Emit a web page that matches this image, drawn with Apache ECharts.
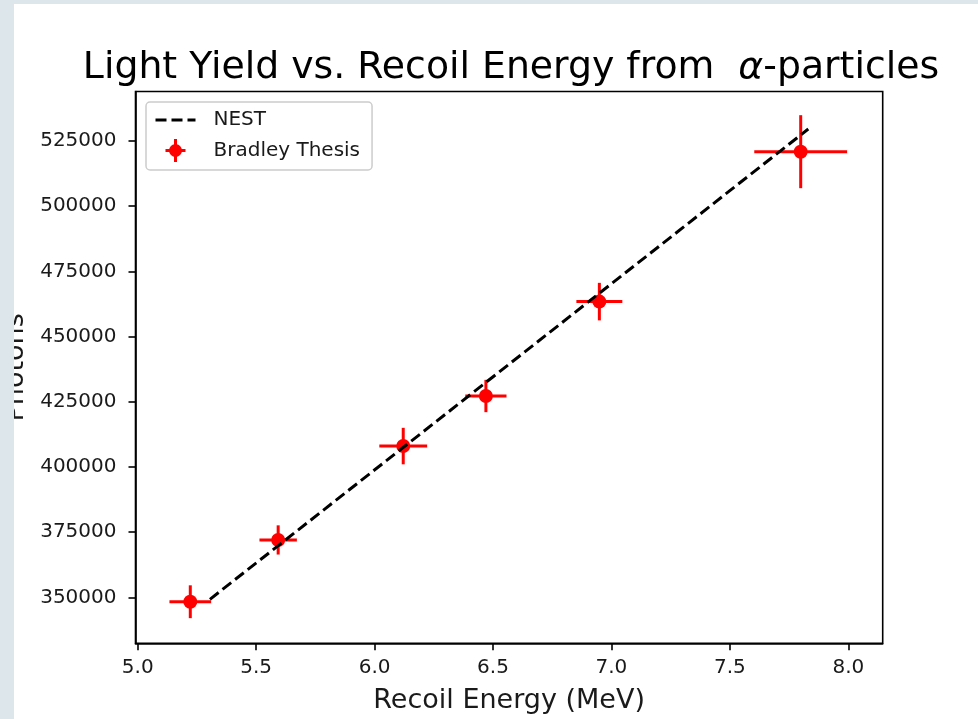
<!DOCTYPE html>
<html>
<head>
<meta charset="utf-8">
<script src="https://cdn.jsdelivr.net/npm/echarts@6/dist/echarts.min.js"></script>
<style>
  html, body { margin: 0; padding: 0; background: #ffffff; }
  #chart { width: 978px; height: 719px; }
</style>
</head>
<body>
<div id="chart"></div>
<script>
// Measured alpha recoil points (Bradley thesis) with their uncertainties
const energy      = [5.222, 5.593, 6.121, 6.470, 6.949, 7.799];
const photons     = [348300, 372000, 408000, 427200, 463400, 520900];
const energyErr   = [0.088, 0.079, 0.101, 0.087, 0.097, 0.196];
const photonsErr  = [6300, 5600, 7000, 6200, 7200, 14000];

// NEST model prediction
const nestEnergy  = [5.305, 7.831];
const nestPhotons = [349230, 529590];

// Axis ticks
const xTicks = [5.0, 5.5, 6.0, 6.5, 7.0, 7.5, 8.0];
const yTicks = [350000, 375000, 400000, 425000, 450000, 475000, 500000, 525000];

const FONT = 'DejaVu Sans';
const RED = '#ff0000';
const INK = '#1a1a1a';

const points = energy.map((e, i) => [e, photons[i], energyErr[i], photonsErr[i]]);
const nest = nestEnergy.map((e, i) => [e, nestPhotons[i]]);

const chart = echarts.init(document.getElementById('chart'), null, { renderer: 'canvas' });

chart.setOption({
  animation: false,
  backgroundColor: '#ffffff',
  title: {
    text: 'Light Yield vs. Recoil Energy from  {a|α}-particles',
    left: 506, textAlign: 'center',
    top: 44,
    textStyle: {
      fontFamily: FONT, fontSize: 37.8, fontWeight: 'normal', color: '#000',
      rich: { a: { fontFamily: FONT, fontSize: 37.8, fontStyle: 'italic', color: '#000' } }
    }
  },
  legend: {
    left: 146, top: 102,
    orient: 'vertical',
    backgroundColor: 'rgba(255,255,255,0.8)',
    borderColor: '#cccccc', borderWidth: 1.5, borderRadius: 4,
    padding: [8, 12, 8, 8],
    itemWidth: 40, itemHeight: 23, itemGap: 9,
    textStyle: { fontFamily: FONT, fontSize: 20, color: INK, padding: [0, 0, 0, 13] },
    data: [
      { name: 'NEST',
        itemStyle: { color: 'rgba(0,0,0,0)', borderWidth: 0, opacity: 0 },
        lineStyle: { color: '#000', width: 3, type: [11, 5] } },
      { name: 'Bradley Thesis',
        icon: 'path://M-1.5,-11.5 h3 v23 h-3 z M-10,-1.5 h20 v3 h-20 z M-6.5,0 a6.5,6.5 0 1,1 13,0 a6.5,6.5 0 1,1 -13,0 z',
        itemStyle: { color: RED, borderWidth: 0, opacity: 1 } }
    ]
  },
  grid: {
    left: 135.5, top: 91.5, right: 95.3, bottom: 75.7,
    outerBoundsMode: 'none', containLabel: false,
    show: true, borderColor: '#000', borderWidth: 1.6, backgroundColor: 'transparent'
  },
  xAxis: {
    type: 'value',
    min: 4.9907, max: 8.1452,
    name: 'Recoil Energy (MeV)',
    nameLocation: 'middle', nameGap: 44,
    nameTextStyle: { fontFamily: FONT, fontSize: 27, color: INK },
    axisLine: { show: true, onZero: false, lineStyle: { color: '#000', width: 1.6 } },
    axisTick: { show: true, inside: false, length: 7, lineStyle: { color: '#000', width: 1.6 },
                customValues: xTicks },
    axisLabel: { fontFamily: FONT, fontSize: 20, color: INK, margin: 14,
                 customValues: xTicks, formatter: v => v.toFixed(1) },
    splitLine: { show: false }
  },
  yAxis: {
    type: 'value',
    min: 332359, max: 543983,
    name: 'Photons',
    nameLocation: 'middle', nameGap: 99, nameRotate: 90,
    nameTextStyle: { fontFamily: FONT, fontSize: 27, color: INK },
    axisLine: { show: true, onZero: false, lineStyle: { color: '#000', width: 1.6 } },
    axisTick: { show: true, inside: false, length: 7, lineStyle: { color: '#000', width: 1.6 },
                customValues: yTicks },
    axisLabel: { fontFamily: FONT, fontSize: 20, color: INK, margin: 19,
                 customValues: yTicks, formatter: v => String(v) },
    splitLine: { show: false }
  },
  series: [
    {
      name: 'NEST',
      type: 'line',
      data: nest,
      symbol: 'none',
      z: 5,
      lineStyle: { color: '#000', width: 3, type: [11, 5] },
      itemStyle: { color: '#000' }
    },
    {
      name: 'Bradley Thesis',
      type: 'scatter',
      data: points.map(p => [p[0], p[1]]),
      symbol: 'circle',
      symbolSize: 14,
      z: 4,
      itemStyle: { color: RED, opacity: 1 }
    },
    {
      name: 'Bradley Thesis',
      type: 'custom',
      data: points,
      z: 3,
      itemStyle: { color: RED },
      renderItem: function (params, api) {
        const x = api.value(0), y = api.value(1);
        const dx = api.value(2), dy = api.value(3);
        const l = api.coord([x - dx, y]);
        const r = api.coord([x + dx, y]);
        const t = api.coord([x, y + dy]);
        const b = api.coord([x, y - dy]);
        const style = { stroke: RED, lineWidth: 3 };
        return {
          type: 'group',
          children: [
            { type: 'line', shape: { x1: l[0], y1: l[1], x2: r[0], y2: r[1] }, style: style },
            { type: 'line', shape: { x1: t[0], y1: t[1], x2: b[0], y2: b[1] }, style: style }
          ]
        };
      }
    }
  ],
  graphic: [
    { type: 'rect', left: 0, top: 0, z: 100,
      shape: { width: 14, height: 719 }, style: { fill: '#dde6eb' } },
    { type: 'rect', left: 0, top: 0, z: 100,
      shape: { width: 978, height: 4 }, style: { fill: '#dde6eb' } }
  ]
});
</script>
</body>
</html>
